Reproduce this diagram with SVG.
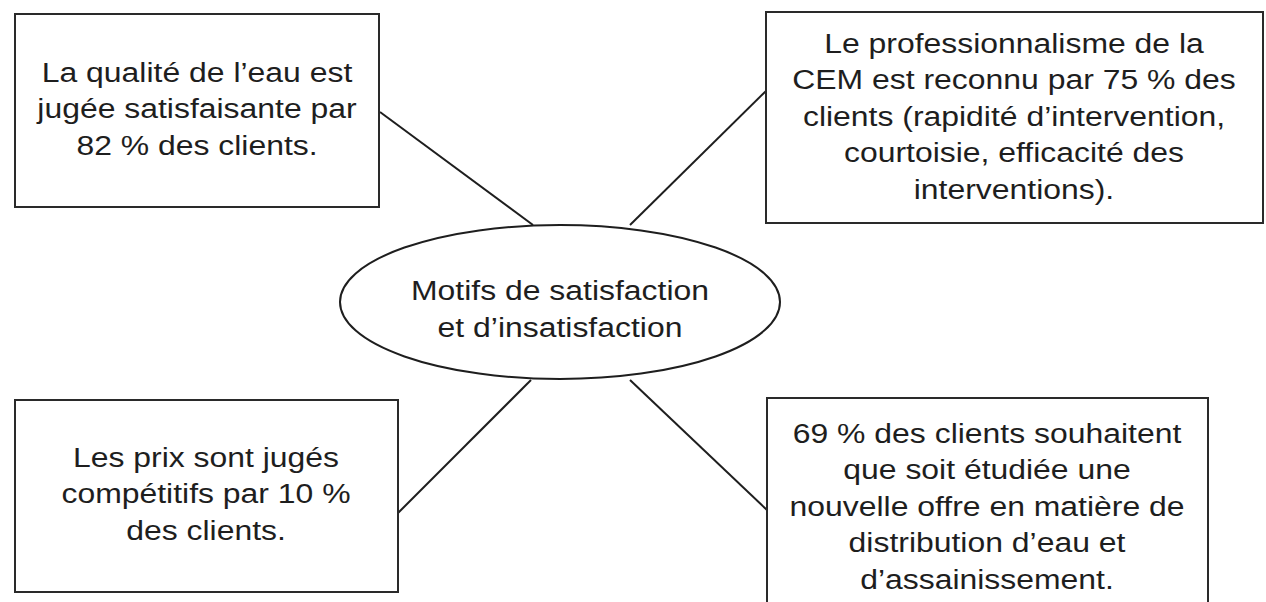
<svg xmlns="http://www.w3.org/2000/svg" width="1266" height="602" viewBox="0 0 1266 602">
<style>
.box{fill:#fff;stroke:#2a2a2a;stroke-width:2}
.conn line{stroke:#1e1e1e;stroke-width:2}
.t{font-family:"Liberation Sans",Arial,sans-serif;font-size:28px;fill:#1e1e1e;text-anchor:middle}
</style>
<rect width="1266" height="602" fill="#fff"/>
<g id="connectors" class="conn">
<line x1="380" y1="112" x2="533" y2="225"/>
<line x1="630" y1="225" x2="766" y2="91"/>
<line x1="531" y1="380" x2="398" y2="513"/>
<line x1="630" y1="380" x2="767" y2="510"/>
</g>
<g id="center">
<ellipse cx="560" cy="302" rx="220" ry="77" fill="#fff" stroke="#1e1e1e" stroke-width="2"/>
<text class="t" transform="translate(560 0) scale(1.14 1)"><tspan x="0" y="300">Motifs de satisfaction</tspan><tspan x="0" y="337">et d’insatisfaction</tspan></text>
</g>
<g id="qualite">
<rect class="box" x="15" y="14" width="364" height="193"/>
<text class="t" transform="translate(197 0) scale(1.14 1)"><tspan x="0" y="82">La qualité de l’eau est</tspan><tspan x="0" y="118.5">jugée satisfaisante par</tspan><tspan x="0" y="155">82 % des clients.</tspan></text>
</g>
<g id="professionnalisme">
<rect class="box" x="766" y="12" width="497" height="211"/>
<text class="t" transform="translate(1014 0) scale(1.14 1)"><tspan x="0" y="53">Le professionnalisme de la</tspan><tspan x="0" y="89.5">CEM est reconnu par 75 % des</tspan><tspan x="0" y="126">clients (rapidité d’intervention,</tspan><tspan x="0" y="162.5">courtoisie, efficacité des</tspan><tspan x="0" y="199">interventions).</tspan></text>
</g>
<g id="prix">
<rect class="box" x="15" y="400" width="383" height="192"/>
<text class="t" transform="translate(206 0) scale(1.14 1)"><tspan x="0" y="467">Les prix sont jugés</tspan><tspan x="0" y="503.5">compétitifs par 10 %</tspan><tspan x="0" y="540">des clients.</tspan></text>
</g>
<g id="offre">
<rect class="box" x="767" y="398" width="441" height="214"/>
<text class="t" transform="translate(987 0) scale(1.14 1)"><tspan x="0" y="443">69 % des clients souhaitent</tspan><tspan x="0" y="479.5">que soit étudiée une</tspan><tspan x="0" y="516">nouvelle offre en matière de</tspan><tspan x="0" y="552.5">distribution d’eau et</tspan><tspan x="0" y="589">d’assainissement.</tspan></text>
</g>
</svg>
